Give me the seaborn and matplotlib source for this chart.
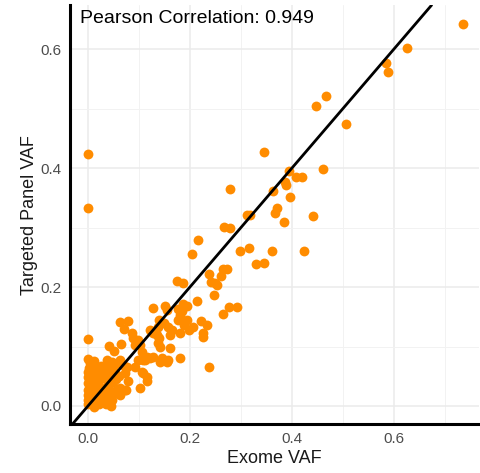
import matplotlib
matplotlib.use("Agg")
import matplotlib.pyplot as plt
import seaborn as sns
import pandas as pd
from matplotlib.ticker import MultipleLocator

# Variant allele frequencies: whole-exome call vs. targeted panel call
exome_vaf = [
    0.735, 0.625, 0.584, 0.589, 0.467, 0.447, 0.506, 0.345, 0.461, 0.394,
    0.408, 0.420, 0.386, 0.388, 0.278, 0.363, 0.396, 0.371, 0.367, 0.384,
    0.441, 0.312, 0.318, 0.267, 0.278, 0.216, 0.298, 0.316, 0.361, 0.424,
    0.329, 0.345, 0.265, 0.273, 0.237, 0.261, 0.241, 0.249, 0.253, 0.247,
    0.204, 0.000, 0.000,
    0.175, 0.186, 0.214, 0.276, 0.292, 0.265, 0.151, 0.155, 0.127, 0.186,
    0.194, 0.176, 0.184, 0.180, 0.139, 0.149, 0.176, 0.194, 0.222, 0.233,
    0.206, 0.198, 0.063, 0.078, 0.071, 0.137, 0.157, 0.165, 0.161, 0.188,
    0.180, 0.225, 0.225, 0.086, 0.088, 0.098, 0.092, 0.102, 0.122, 0.127,
    0.135, 0.139, 0.137, 0.141, 0.041, 0.051, 0.065, 0.106, 0.116, 0.122,
    0.127, 0.108, 0.161, 0.157, 0.145, 0.141, 0.155, 0.180, 0.237,
    0.037, 0.047, 0.057, 0.063, 0.069, 0.076, 0.041, 0.053, 0.029, 0.073,
    0.106, 0.092, 0.116,
    0.000, 0.000, 0.004, 0.002, 0.000, 0.000, 0.000, 0.000, 0.000, 0.000,
    0.000, 0.041, 0.047, 0.037, 0.049, 0.063, 0.073, 0.057, 0.063, 0.045,
    0.102, 0.108, 0.075, 0.057, 0.078, 0.116, 0.098, 0.112,
    0.008, 0.015, 0.022, 0.030, 0.010, 0.018, 0.026, 0.034, 0.006, 0.014,
    0.022, 0.030, 0.040, 0.008, 0.016, 0.025, 0.035, 0.010, 0.020, 0.030,
    0.005, 0.015, 0.025, 0.012, 0.040, 0.045, 0.050, 0.048, 0.035, 0.012,
    0.025, 0.005, 0.020, 0.038, 0.055, 0.060,
]
panel_vaf = [
    0.642, 0.602, 0.576, 0.561, 0.521, 0.504, 0.474, 0.427, 0.398, 0.396,
    0.385, 0.385, 0.376, 0.371, 0.365, 0.361, 0.351, 0.333, 0.324, 0.309,
    0.319, 0.321, 0.321, 0.301, 0.299, 0.279, 0.260, 0.266, 0.260, 0.260,
    0.239, 0.240, 0.230, 0.230, 0.222, 0.218, 0.208, 0.207, 0.203, 0.187,
    0.255, 0.424, 0.333,
    0.210, 0.207, 0.176, 0.166, 0.166, 0.155, 0.168, 0.161, 0.165, 0.171,
    0.168, 0.163, 0.160, 0.153, 0.145, 0.139, 0.145, 0.145, 0.143, 0.136,
    0.133, 0.128, 0.141, 0.143, 0.129, 0.133, 0.133, 0.128, 0.119, 0.136,
    0.123, 0.123, 0.116, 0.123, 0.114, 0.111, 0.103, 0.103, 0.128, 0.123,
    0.119, 0.114, 0.106, 0.099, 0.101, 0.092, 0.104, 0.091, 0.082, 0.081,
    0.082, 0.077, 0.097, 0.077, 0.081, 0.074, 0.074, 0.081, 0.066,
    0.077, 0.074, 0.072, 0.077, 0.069, 0.066, 0.061, 0.055, 0.057, 0.055,
    0.057, 0.066, 0.049,
    0.113, 0.079, 0.072, 0.064, 0.057, 0.049, 0.038, 0.027, 0.018, 0.010,
    0.003, 0.074, 0.072, 0.061, 0.066, 0.030, 0.027, 0.027, 0.018, 0.000,
    0.030, 0.055, 0.027, 0.022, 0.042, 0.042, 0.077, 0.077,
    0.005, 0.008, 0.004, 0.010, 0.015, 0.020, 0.018, 0.022, 0.025, 0.030,
    0.034, 0.030, 0.035, 0.040, 0.044, 0.047, 0.045, 0.052, 0.056, 0.058,
    0.062, 0.066, 0.068, 0.075, 0.015, 0.025, 0.040, 0.010, 0.003, -0.002,
    0.025, 0.045, 0.012, 0.050, 0.045, 0.050,
]
tick_values = [0.0, 0.2, 0.4, 0.6]
tick_labels = ["0.0", "0.2", "0.4", "0.6"]
title_text = "Pearson Correlation: 0.949"

df = pd.DataFrame({"Exome VAF": exome_vaf, "Targeted Panel VAF": panel_vaf})

sns.set_style("white")
plt.rcParams["font.family"] = ["Liberation Sans", "DejaVu Sans"]

fig = plt.figure(figsize=(4.8, 4.73), dpi=100)
ax = fig.add_axes([0.1458, 0.1036, 0.852, 0.8854])

sns.scatterplot(data=df, x="Exome VAF", y="Targeted Panel VAF", ax=ax,
                color="#FF8C00", s=50, linewidth=0, alpha=1, zorder=3)
ax.axline((0, 0), slope=1, color="black", lw=2.0, zorder=4)

ax.set_xlim(-0.0353, 0.767)
ax.set_ylim(-0.0303, 0.674)
ax.set_xticks(tick_values)
ax.set_xticklabels(tick_labels)
ax.set_yticks(tick_values)
ax.set_yticklabels(tick_labels)
ax.xaxis.set_minor_locator(MultipleLocator(0.1))
ax.yaxis.set_minor_locator(MultipleLocator(0.1))

ax.grid(True, which="major", color="#EBEBEB", lw=1.1, zorder=0)
ax.grid(True, which="minor", color="#F2F2F2", lw=0.7, zorder=0)
ax.set_axisbelow(True)

for side in ["top", "right"]:
    ax.spines[side].set_visible(False)
for side in ["left", "bottom"]:
    ax.spines[side].set_visible(True)
    ax.spines[side].set_color("black")
    ax.spines[side].set_linewidth(2.2)

ax.tick_params(axis="both", which="both", length=0, labelsize=11,
               labelcolor="#4D4D4D", pad=6)
ax.set_xlabel("Exome VAF", fontsize=13, color="#1a1a1a", labelpad=3)
ax.set_ylabel("Targeted Panel VAF", fontsize=13, color="#1a1a1a", labelpad=2)

ax.text(0.024, 0.969, title_text, transform=ax.transAxes, fontsize=14,
        ha="left", va="center", color="black", zorder=5)

fig.savefig("out.png", dpi=100)
